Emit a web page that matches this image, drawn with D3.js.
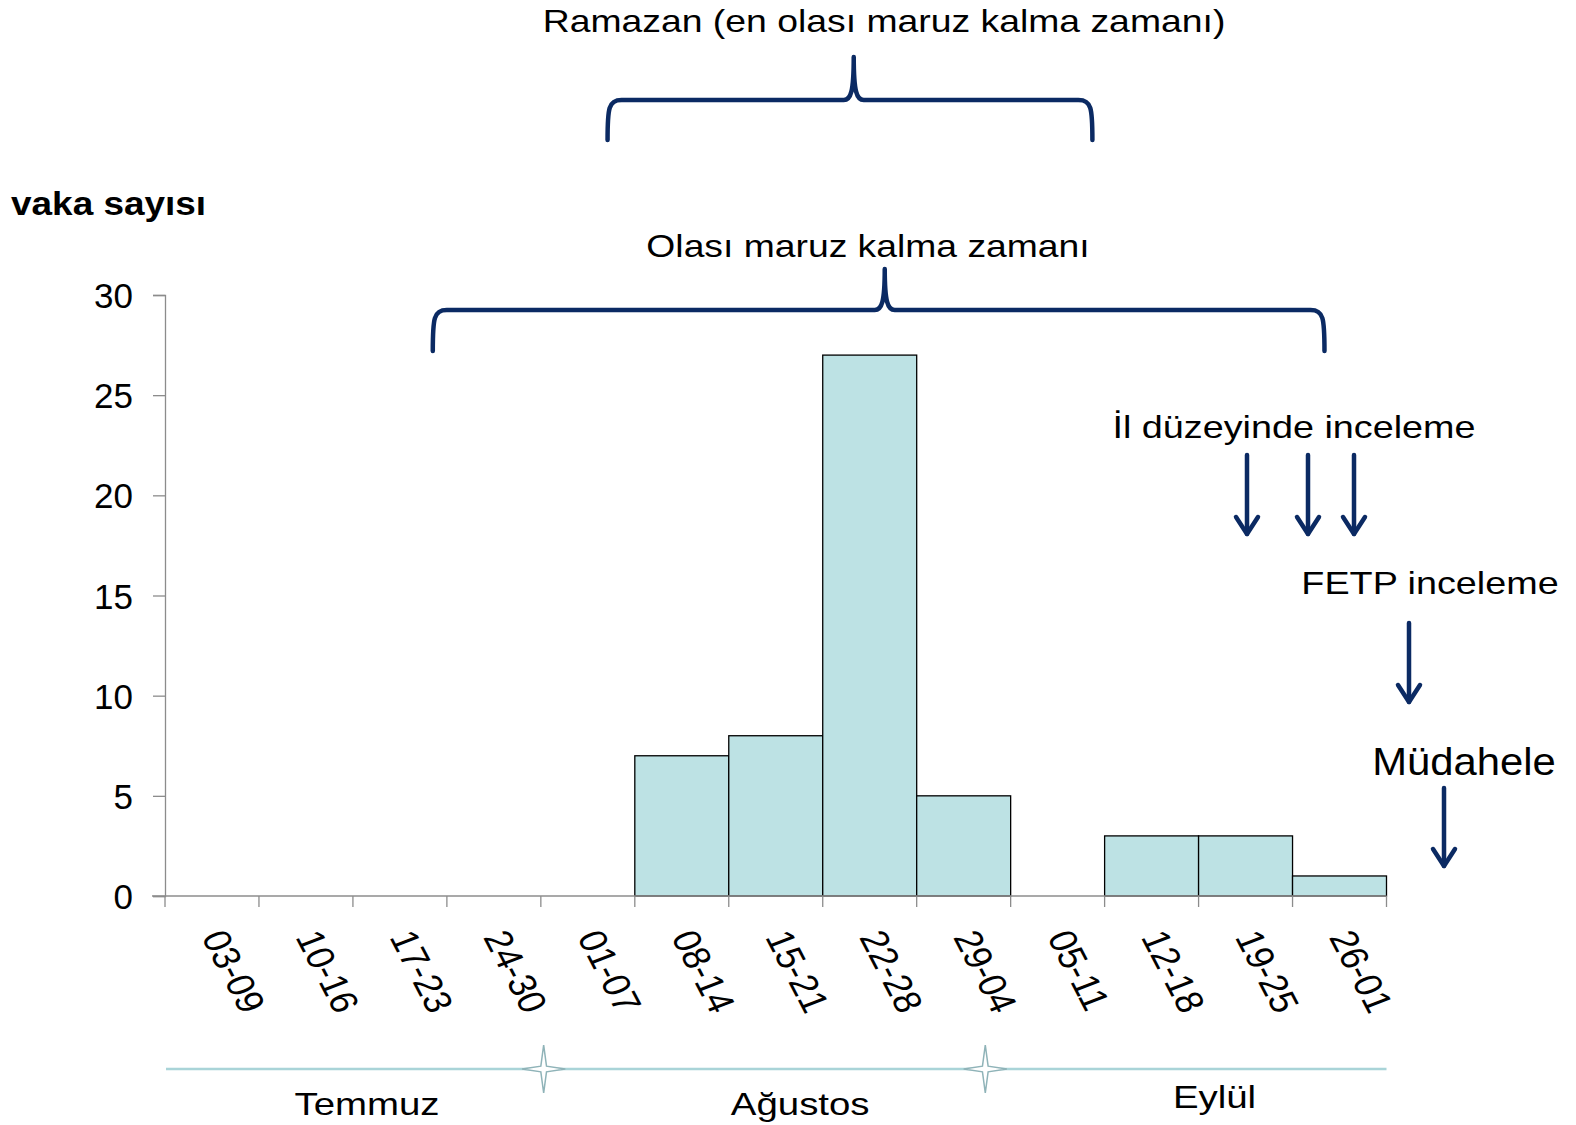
<!DOCTYPE html>
<html>
<head>
<meta charset="utf-8">
<script src="https://cdn.jsdelivr.net/npm/d3@7"></script>
<style>
  html, body { margin: 0; padding: 0; background: #fff; }
  svg { display: block; }
  text { font-family: "Liberation Sans", Arial, sans-serif; fill: #000; }
</style>
</head>
<body>
<svg id="chart" width="1576" height="1125"></svg>
<script>
// ---- data ----
const categories = ["03-09","10-16","17-23","24-30","01-07","08-14","15-21","22-28","29-04","05-11","12-18","19-25","26-01"];
const cases = [0,0,0,0,0,7,8,27,5,0,3,3,1];
const yTicks = [0,5,10,15,20,25,30];
const months = ["Temmuz","Ağustos","Eylül"];
const monthCentres = [2.15, 6.76, 11.17];      // in week-index units
const monthBreaks = [4.03, 8.73];               // star positions, week-index units
const braceLabels = ["Ramazan (en olası maruz kalma zamanı)", "Olası maruz kalma zamanı"];
const braceSpans = [[4.71, 9.87, 7.33], [2.85, 12.34, 7.66]]; // start, end, tip (week-index units)
const steps = ["İl düzeyinde inceleme", "FETP inceleme", "Müdahele"];

// ---- layout ----
const svg = d3.select("#chart");
const navy = "#0b2a63";
const axisGrey = "#8c8c8c";
const barFill = "#bde2e4";

const x = d3.scaleBand().domain(categories).range([165, 1386.5]).padding(0);
const xi = d3.scaleLinear().domain([0, categories.length]).range([165, 1386.5]);
const y = d3.scaleLinear().domain([0, 30]).range([896, 295]);

// stretched text helper (the original lettering is horizontally wide)
function wideText(g, str, cx, cy, size, sx, anchor, weight) {
  return g.append("text")
    .attr("transform", `translate(${cx},${cy}) scale(${sx},1)`)
    .attr("text-anchor", anchor || "middle")
    .attr("font-size", size)
    .attr("font-weight", weight || "normal")
    .text(str);
}

// bars
svg.append("g").selectAll("rect")
  .data(categories.map((c, i) => ({c, v: cases[i]})).filter(d => d.v > 0))
  .join("rect")
  .attr("x", d => x(d.c))
  .attr("y", d => y(d.v))
  .attr("width", x.bandwidth())
  .attr("height", d => y(0) - y(d.v))
  .attr("fill", barFill)
  .attr("stroke", "#000")
  .attr("stroke-width", 1.3);

// y axis
const gy = svg.append("g").attr("transform", `translate(${x.range()[0]},0)`)
  .call(d3.axisLeft(y).tickValues(yTicks).tickSize(12).tickPadding(20));
gy.select(".domain").attr("stroke", axisGrey).attr("stroke-width", 1.3);
gy.selectAll(".tick line").attr("stroke", axisGrey).attr("stroke-width", 1.3);
gy.selectAll(".tick text").attr("font-size", 35).attr("font-family", "Liberation Sans, Arial, sans-serif").attr("fill", "#000").attr("dy", "0.36em");

// x axis baseline and ticks
svg.append("line").attr("x1", 152).attr("x2", x.range()[1]).attr("y1", y(0)).attr("y2", y(0))
  .attr("stroke", axisGrey).attr("stroke-width", 1.3);
svg.append("g").selectAll("line")
  .data(d3.range(categories.length + 1))
  .join("line")
  .attr("x1", i => xi(i)).attr("x2", i => xi(i))
  .attr("y1", y(0)).attr("y2", y(0) + 11)
  .attr("stroke", axisGrey).attr("stroke-width", 1.3);

// rotated x labels (rotated then horizontally stretched, as in the original)
svg.append("g").selectAll("text")
  .data(categories)
  .join("text")
  .attr("transform", d => `translate(${x(d) + x.bandwidth() / 2 - 11},${937}) scale(1.17,1) rotate(66)`)
  .attr("font-size", 33.5)
  .attr("text-anchor", "start")
  .text(d => d);

// month timeline
const tlY = 1069;
svg.append("line").attr("x1", xi(0) + 1).attr("x2", xi(categories.length)).attr("y1", tlY).attr("y2", tlY)
  .attr("stroke", "#a9d4d8").attr("stroke-width", 2.5);
const star = (cx, cy, r, ri) => {
  const pts = [];
  for (let k = 0; k < 8; k++) {
    const a = -Math.PI / 2 + k * Math.PI / 4;
    const rr = k % 2 === 0 ? r : ri;
    pts.push([cx + rr * Math.cos(a) * (k % 4 === 2 ? 0.9 : 1), cy + rr * Math.sin(a)]);
  }
  return "M" + pts.map(p => p.join(",")).join("L") + "Z";
};
svg.append("g").selectAll("path")
  .data(monthBreaks)
  .join("path")
  .attr("d", d => star(xi(d), tlY, 24, 4))
  .attr("fill", "#fff")
  .attr("stroke", "#8fb3b8")
  .attr("stroke-width", 1.5);
const gm = svg.append("g");
months.forEach((m, i) => wideText(gm, m, xi(monthCentres[i]), i === 2 ? 1108 : 1115, 32, 1.2));

// y axis title
wideText(svg, "vaka sayısı", 11, 215, 33, 1.12, "start", "bold");

// braces
function bracePath(x0, x1, tx, yTip, yH, yB) {
  return `M${x0},${yB} C${x0},${yH + 8} ${x0 + 1},${yH} ${x0 + 14},${yH} ` +
         `L${tx - 10},${yH} C${tx - 3},${yH} ${tx},${yH - 8} ${tx},${yTip} ` +
         `C${tx},${yH - 8} ${tx + 3},${yH} ${tx + 10},${yH} ` +
         `L${x1 - 14},${yH} C${x1 - 1},${yH} ${x1},${yH + 8} ${x1},${yB}`;
}
const braceY = [[57, 100, 140], [269, 310, 351]];
braceSpans.forEach((s, i) => {
  svg.append("path")
    .attr("d", bracePath(xi(s[0]), xi(s[1]), xi(s[2]), ...braceY[i]))
    .attr("fill", "none").attr("stroke", navy).attr("stroke-width", 4.5)
    .attr("stroke-linecap", "round").attr("stroke-linejoin", "round");
});
wideText(svg, braceLabels[0], 884, 32, 32, 1.167);
wideText(svg, braceLabels[1], 868, 257, 32, 1.165);

// step annotations
wideText(svg, steps[0], 1294, 438, 32, 1.18);
wideText(svg, steps[1], 1430, 594, 32, 1.18);
wideText(svg, steps[2], 1464, 775, 38, 1.10);

function arrow(cx, y0, y1) {
  const g = svg.append("g").attr("stroke", navy).attr("stroke-width", 4.5).attr("fill", "none")
    .attr("stroke-linecap", "round").attr("stroke-linejoin", "round");
  g.append("line").attr("x1", cx).attr("x2", cx).attr("y1", y0).attr("y2", y1);
  g.append("path").attr("d", `M${cx - 11},${y1 - 17} L${cx},${y1} L${cx + 11},${y1 - 17}`);
}
arrow(1247, 455, 534);
arrow(1308, 455, 534);
arrow(1354, 455, 534);
arrow(1409, 623, 702);
arrow(1444, 788, 866);
</script>
</body>
</html>
